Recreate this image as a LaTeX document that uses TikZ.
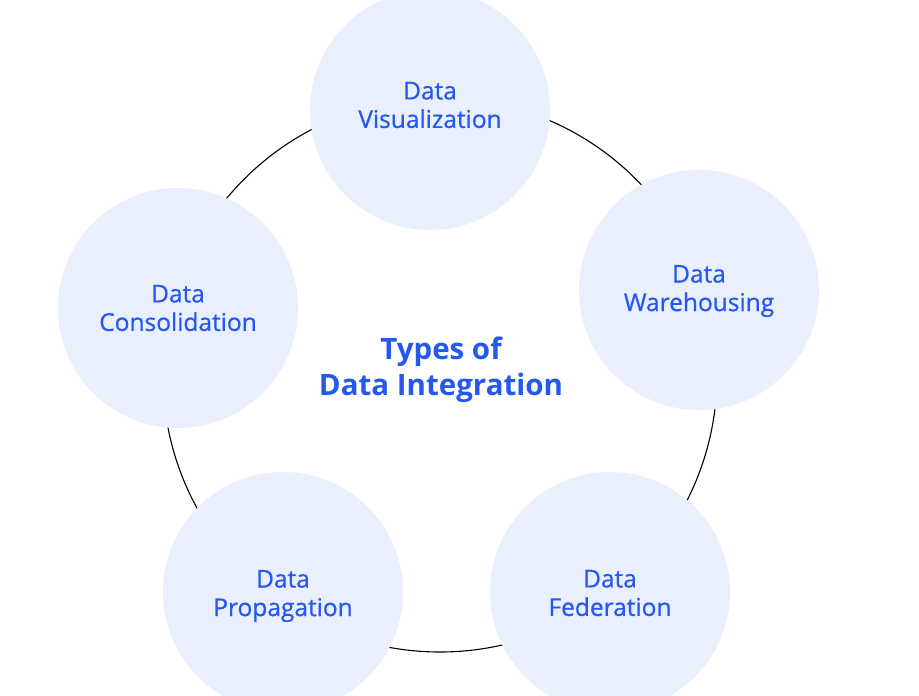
\documentclass[tikz,border=0pt]{standalone}
\usepackage{fontspec}
\setmainfont{Open Sans}
\newfontfamily\medfont[FakeBold=0.7]{Open Sans}
\definecolor{txtblue}{HTML}{2458F0}
\definecolor{cfill}{HTML}{E9EFFD}
\begin{document}
\begin{tikzpicture}[x=1pt,y=-1pt,
  item/.style={circle,fill=cfill,minimum size=240pt,inner sep=0pt},
  lbl/.style={align=center,text=txtblue,font=\medfont\fontsize{24.5}{28.5}\selectfont}]
\useasboundingbox[fill=white] (0,0) rectangle (919,696);
\coordinate (c) at (440,375);
\draw[line width=1.1pt] (c) circle[radius=277];
\node[item] (vis) at (430,110) {};
\node[item] (war) at (699,290) {};
\node[item] (fed) at (610,592) {};
\node[item] (pro) at (283,592) {};
\node[item] (con) at (178,308) {};
\node[lbl] at ([yshift=5pt]vis) {Data\\Visualization};
\node[lbl] at ([yshift=-1pt]war) {Data\\Warehousing};
\node[lbl] at ([yshift=-1pt]fed) {Data\\Federation};
\node[lbl] at ([yshift=-4pt]pro) {Data\\Propagation};
\node[lbl] at ([yshift=0pt]con) {Data\\Consolidation};
\node[align=center,text=txtblue,font=\fontsize{29.5}{36}\selectfont\bfseries] (title) at (441,370) {Types of\\Data Integration};
\end{tikzpicture}
\end{document}
